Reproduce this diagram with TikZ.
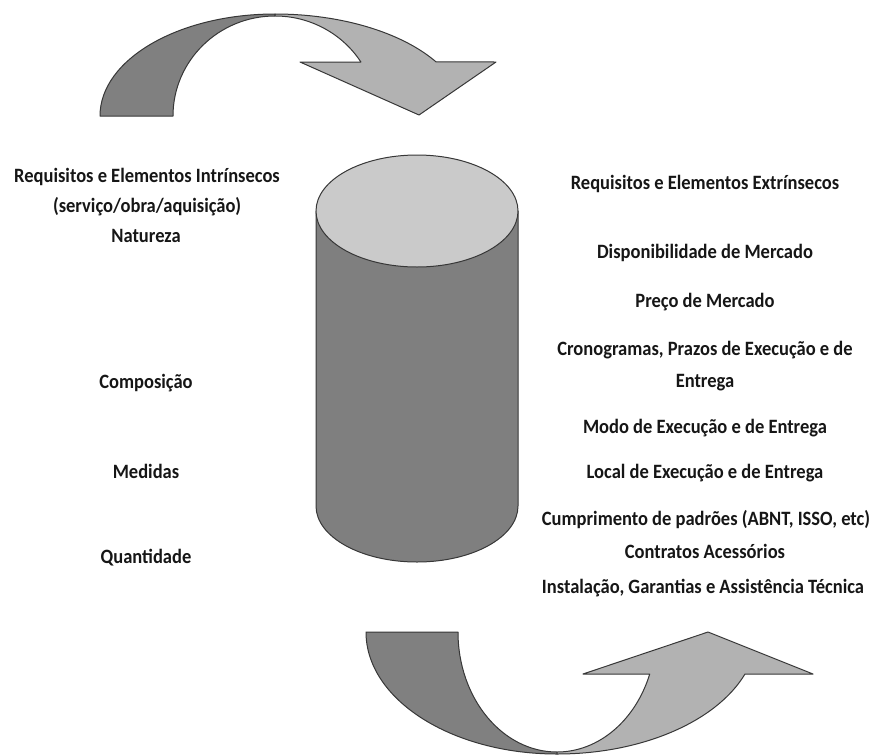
\documentclass[tikz,border=0pt]{standalone}
\usepackage{fontspec}
\setmainfont{Carlito}
\definecolor{arrdark}{RGB}{128,128,128}
\definecolor{arrlight}{RGB}{178,178,178}
\definecolor{cyltop}{RGB}{202,202,202}
\definecolor{cylbody}{RGB}{127,127,127}
\definecolor{edge}{RGB}{55,55,55}
\definecolor{txt}{RGB}{22,22,22}
\newcommand{\tallbox}[1]{\scalebox{1}[1.1]{#1}}
\begin{document}
\begin{tikzpicture}[x=1pt,y=-1pt,
  shapeline/.style={draw=edge,line width=1pt,line join=round},
  lbl/.style={anchor=base,inner sep=0pt,text=txt,font=\fontsize{18.5}{22}\selectfont\bfseries}]
\useasboundingbox (0,0) rectangle (872,755);
% top curved arrow
\path[shapeline,fill=arrdark] (100,116) arc[start angle=180,end angle=270,x radius=175,y radius=102]
  -- (275,16) arc[start angle=270,end angle=180,x radius=102,y radius=100] -- cycle;
\path[shapeline,fill=arrlight] (275,14) arc[start angle=270,end angle=328,x radius=190,y radius=102]
  -- (496,62) -- (419,115) -- (300,62) -- (360.9,62)
  arc[start angle=327.32,end angle=270,x radius=102,y radius=100] -- cycle;
% bottom curved arrow
\path[shapeline,fill=arrdark] (366,632) -- (458,632)
  arc[start angle=180,end angle=90,x radius=99,y radius=120]
  -- (557,754) arc[start angle=90,end angle=180,x radius=191,y radius=122] -- cycle;
\path[shapeline,fill=arrlight] (557,752) arc[start angle=90,end angle=20.49,x radius=99,y radius=120]
  -- (583,674) -- (708,632) -- (813,674) -- (745,674)
  arc[start angle=20.14,end angle=90,x radius=200,y radius=122] -- cycle;
% cylinder
\path[shapeline,fill=cylbody] (316,211) -- (316,506)
  arc[start angle=180,end angle=0,x radius=101,y radius=56] -- (518,211) -- cycle;
\path[shapeline,fill=cyltop] (417,211) ellipse[x radius=101,y radius=56];
% left texts
\node[lbl] (l1) at (147,182) {\tallbox{Requisitos e Elementos Intrínsecos}};
\node[lbl] (l2) at (147,212) {\tallbox{(serviço/obra/aquisição)}};
\node[lbl] (l3) at (146,242) {\tallbox{Natureza}};
\node[lbl] (l4) at (146,388) {\tallbox{Composição}};
\node[lbl] (l5) at (146,478) {\tallbox{Medidas}};
\node[lbl] (l6) at (146,563) {\tallbox{Quantidade}};
% right texts
\node[lbl] (r1) at (705,189) {\tallbox{Requisitos e Elementos Extrínsecos}};
\node[lbl] (r2) at (705,258) {\tallbox{Disponibilidade de Mercado}};
\node[lbl] (r3) at (705,307) {\tallbox{Preço de Mercado}};
\node[lbl] (r4) at (705,355) {\tallbox{Cronogramas, Prazos de Execução e de}};
\node[lbl] (r5) at (705,387) {\tallbox{Entrega}};
\node[lbl] (r6) at (705,433) {\tallbox{Modo de Execução e de Entrega}};
\node[lbl] (r7) at (705,478) {\tallbox{Local de Execução e de Entrega}};
\node[lbl] (r8) at (706,525) {\tallbox{Cumprimento de padrões (ABNT, ISSO, etc)}};
\node[lbl] (r9) at (705,558) {\tallbox{Contratos Acessórios}};
\node[lbl] (r10) at (703,593) {\tallbox{Instalação, Garantias e Assistência Técnica}};
\end{tikzpicture}
\end{document}
